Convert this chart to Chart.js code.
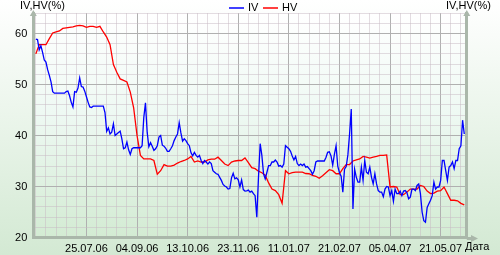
<!DOCTYPE html>
<html>
<head>
<meta charset="utf-8">
<script src="https://cdn.jsdelivr.net/npm/chart.js@4.4.1/dist/chart.umd.min.js"></script>
<style>
  html, body { margin: 0; padding: 0; background: #fff; }
  #chart { display: block; }
</style>
</head>
<body>
<canvas id="chart" width="500" height="255"></canvas>
<script>
// ===============================
// Datos
// IV: un valor por sesion, HV: uno cada 2 sesiones
// ===============================
const ivValues = [
    58.9, 58.8, 56.8, 57.6, 56.3, 54.8, 54.4, 52.9, 51.8, 50.5,
    48.6, 48.3, 48.3, 48.3, 48.3, 48.3, 48.3, 48.3, 48.6, 48.7,
    47.8, 46.5, 45.6, 48.6, 48.5, 49.3, 51.3, 49.6, 49.5, 48.7,
    47.6, 46.5, 45.6, 45.5, 45.75, 45.75, 45.75, 45.75, 45.75, 45.75,
    45.75, 44.5, 40.8, 41.5, 40.3, 40.65, 42.3, 40.0, 40.3, 40.6,
    40.85, 39.35, 37.4, 37.6, 38.7, 37.2, 36.3, 37.4, 37.6, 37.6,
    37.6, 37.6, 37.6, 38.0, 43.5, 46.4, 40.65, 37.8, 38.6, 37.9,
    37.1, 37.4, 38.0, 39.7, 40.0, 38.1, 37.9, 37.5, 36.9, 36.9,
    37.4, 38.0, 39.0, 39.7, 40.3, 42.5, 40.5, 38.9, 39.35, 39.0,
    38.4, 38.0, 36.6, 36.0, 36.7, 36.1, 35.75, 36.1, 35.1, 34.5,
    35.1, 34.8, 34.4, 34.8, 34.5, 33.1, 32.8, 32.5, 32.4, 31.8,
    31.2, 30.4, 30.1, 29.9, 29.5, 29.6, 31.7, 32.6, 31.5, 31.7,
    31.3, 29.9, 31.3, 29.4, 29.1, 29.15, 29.3, 28.9, 29.1, 28.6,
    28.2, 24.0, 31.8, 38.4, 36.1, 32.5, 31.5, 32.8, 34.1, 34.1,
    34.8, 34.8, 35.2, 34.8, 34.0, 34.1, 33.8, 34.4, 38.0, 37.7,
    37.4, 36.9, 36.0, 35.2, 35.9, 34.5, 34.1, 34.4, 34.1, 34.4,
    33.8, 33.9, 33.5, 33.1, 32.4, 33.1, 34.8, 35.0, 35.0, 35.0,
    35.0, 35.0, 35.7, 36.7, 36.8, 36.0, 34.2, 36.3, 38.0, 34.0,
    32.7, 32.0, 28.9, 33.4, 33.9, 36.2, 40.3, 45.2, 25.6, 33.4,
    31.8, 30.85, 30.85, 33.8, 31.2, 35.1, 32.8, 32.5, 33.8, 31.8,
    30.5, 32.5, 30.5, 29.2, 28.9, 28.9, 28.0, 29.5, 30.0, 29.9,
    28.2, 29.2, 27.1, 29.5, 28.6, 28.6, 29.1, 28.2, 29.1, 29.2,
    28.8, 27.6, 27.9, 29.5, 29.5, 29.2, 30.2, 30.5, 28.6, 25.0,
    23.3, 23.0, 25.9, 26.6, 27.3, 28.2, 30.85, 29.5, 29.9, 29.9,
    31.2, 35.1, 35.1, 33.1, 31.2, 33.8, 34.1, 34.8, 33.5, 35.1,
    35.1, 37.4, 38.0, 43.0, 40.3
];
const hvValues = [
    56.0, 57.8, 57.8, 57.8, 59.0, 60.1, 60.3, 60.5, 61.0, 61.1,
    61.2, 61.3, 61.5, 61.6, 61.5, 61.2, 61.4, 61.4, 61.2, 61.4,
    60.3, 59.3, 57.8, 53.9, 52.4, 51.1, 50.8, 50.5, 48.5, 45.4,
    40.0, 36.1, 35.4, 35.4, 35.4, 35.1, 32.4, 33.1, 34.3, 34.0,
    34.0, 34.2, 34.6, 34.9, 35.1, 35.4, 35.9, 34.8, 35.0, 34.8,
    34.8, 35.2, 35.35, 35.35, 35.75, 35.1, 34.4, 34.1, 34.8, 35.0,
    35.1, 35.1, 35.6, 34.7, 33.7, 33.5, 33.0, 32.7, 32.2, 30.7,
    29.5, 29.2, 28.4, 26.7, 33.1, 32.5, 32.7, 32.8, 32.8, 32.8,
    32.55, 32.5, 32.2, 32.0, 31.6, 32.1, 32.7, 33.3, 33.1, 32.5,
    32.5, 33.5, 34.3, 34.3, 35.0, 35.2, 35.4, 35.9, 35.75, 35.55,
    35.75, 35.9, 36.1, 36.1, 36.2, 29.9, 30.0, 29.9, 28.4, 28.4,
    28.9, 29.5, 29.5, 29.5, 30.2, 30.0, 29.1, 28.6, 28.7, 29.1,
    29.2, 29.9, 28.6, 27.3, 27.3, 27.2, 26.7, 26.4
];
// sesion (dia habil) de cada etiqueta del eje X
const tickDays = [30, 60, 90, 120, 150, 180, 210, 240];
const tickLabels = ['25.07.06', '04.09.06', '13.10.06', '23.11.06', '11.01.07', '21.02.07', '05.04.07', '21.05.07'];
const seriesNames = ['IV', 'HV'];
const yTitle = 'IV,HV(%)';
const xTitle = 'Дата';

const IV_STEP = 1;
const HV_STEP = 2;
const FONT = '"Liberation Sans", Arial, sans-serif';
const colors = {
    iv: '#0000ff',
    hv: '#ff0000',
    axis: '#aab7aa',
    major: '#b0b0b0',
    minor: 'rgba(200,186,196,0.5)'
};

function toPoints(vals, step) {
    return vals.map((v, k) => ({ x: k * step, y: v }));
}

function isTen(v) {
    const r = Math.round(v);
    return Math.abs(r - v) < 1e-6 && r % 10 === 0;
}

// ===============================
// Fondo, flechas, titulos y leyenda
// ===============================
const decor = {
    id: 'decor',
    beforeDraw(chart) {
        const { ctx, width, height, chartArea: a } = chart;
        ctx.save();
        let g = ctx.createLinearGradient(0, 0, 0, height);
        g.addColorStop(0, '#ffffff');
        g.addColorStop(1, '#d3e9d3');
        ctx.fillStyle = g;
        ctx.fillRect(0, 0, width, height);

        g = ctx.createLinearGradient(0, a.top, 0, a.bottom);
        g.addColorStop(0, '#ffffff');
        g.addColorStop(0.45, '#eef9f3');
        g.addColorStop(1, '#d3ebd3');
        ctx.fillStyle = g;
        ctx.fillRect(a.left, a.top, a.right - a.left, a.bottom - a.top);
        ctx.restore();
    },
    afterDraw(chart) {
        const { ctx, chartArea: a } = chart;
        ctx.save();

        // flechas de los ejes
        ctx.fillStyle = colors.axis;
        ctx.strokeStyle = colors.axis;
        ctx.lineWidth = 3;
        [a.left, a.right].forEach(x => {
            ctx.beginPath();
            ctx.moveTo(x, a.top + 1);
            ctx.lineTo(x, 14);
            ctx.stroke();
            ctx.beginPath();
            ctx.moveTo(x, 10);
            ctx.lineTo(x - 3.5, 16);
            ctx.lineTo(x + 3.5, 16);
            ctx.closePath();
            ctx.fill();
        });
        const yb = a.bottom + 1;
        ctx.beginPath();
        ctx.moveTo(a.right, yb);
        ctx.lineTo(473, yb);
        ctx.stroke();
        ctx.beginPath();
        ctx.moveTo(478, yb);
        ctx.lineTo(471, yb - 3.5);
        ctx.lineTo(471, yb + 3.5);
        ctx.closePath();
        ctx.fill();

        // titulos
        ctx.font = '11px ' + FONT;
        ctx.fillStyle = '#000';
        ctx.textBaseline = 'middle';
        ctx.textAlign = 'left';
        ctx.fillText(yTitle, 20, 6);
        ctx.fillText(yTitle, 446, 6);
        ctx.fillText(xTitle, 465, 247);

        // leyenda
        const items = [
            { name: seriesNames[0], color: colors.iv, x: 229 },
            { name: seriesNames[1], color: colors.hv, x: 263 }
        ];
        items.forEach(it => {
            ctx.strokeStyle = it.color;
            ctx.lineWidth = 1.5;
            ctx.beginPath();
            ctx.moveTo(it.x, 8);
            ctx.lineTo(it.x + 15, 8);
            ctx.stroke();
            ctx.fillStyle = '#000';
            ctx.fillText(it.name, it.x + 19, 8);
        });
        ctx.restore();
    }
};

// ===============================
// Grafico
// ===============================
new Chart(document.getElementById('chart'), {
    type: 'line',
    data: {
        datasets: [
            {
                label: seriesNames[0],
                data: toPoints(ivValues, IV_STEP),
                borderColor: colors.iv,
                borderWidth: 1.3,
                pointRadius: 0,
                tension: 0
            },
            {
                label: seriesNames[1],
                data: toPoints(hvValues, HV_STEP),
                borderColor: colors.hv,
                borderWidth: 1.3,
                pointRadius: 0,
                tension: 0
            }
        ]
    },
    options: {
        responsive: false,
        devicePixelRatio: 1,
        animation: false,
        layout: { padding: { top: 13.1, right: 33.2, left: 0, bottom: 0 } },
        plugins: {
            legend: { display: false },
            tooltip: { enabled: false }
        },
        scales: {
            x: {
                type: 'linear',
                min: -1.5,
                max: 255.5,
                afterFit: s => { s.height = 17.5; },
                afterBuildTicks: s => {
                    const t = [];
                    for (let d = 0; d <= 252; d += 6) t.push({ value: d });
                    s.ticks = t;
                },
                grid: {
                    drawTicks: false,
                    lineWidth: 1,
                    color: c => (c.tick && tickDays.includes(c.tick.value)) ? colors.major : colors.minor
                },
                border: { display: true, color: colors.axis, width: 3 },
                ticks: {
                    autoSkip: false,
                    maxRotation: 0,
                    padding: 5,
                    color: '#000',
                    font: { family: FONT, size: 11 },
                    callback: v => {
                        const i = tickDays.indexOf(v);
                        return i >= 0 ? tickLabels[i] : '';
                    }
                }
            },
            y: {
                min: 20,
                max: 64,
                afterFit: s => { s.width = 33.3; },
                grid: {
                    drawTicks: false,
                    lineWidth: 1,
                    color: c => (c.tick && isTen(c.tick.value)) ? colors.major : colors.minor
                },
                border: { display: true, color: colors.axis, width: 3 },
                ticks: {
                    stepSize: 2,
                    autoSkip: false,
                    padding: 6,
                    color: '#000',
                    font: { family: FONT, size: 11 },
                    callback: v => isTen(v) ? Math.round(v) : ''
                }
            },
            y2: {
                position: 'right',
                min: 20,
                max: 64,
                afterFit: s => { s.width = 0; },
                grid: { display: false },
                border: { display: true, color: colors.axis, width: 3 },
                ticks: { display: false }
            }
        }
    },
    plugins: [decor]
});
</script>
</body>
</html>
